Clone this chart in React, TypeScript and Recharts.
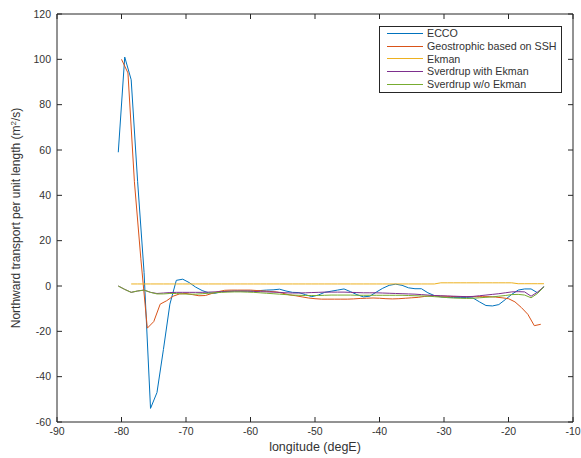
import { LineChart, Line, XAxis, YAxis, Legend, Label } from "recharts";

// longitude grids (degE)
const halfLon = [
  -80.5, -79.5, -78.5, -77.5, -76.5, -75.5, -74.5, -73.5, -72.5, -71.5,
  -70.5, -69.5, -68.5, -67.5, -66.5, -65.5, -64.5, -63.5, -62.5, -61.5,
  -60.5, -59.5, -58.5, -57.5, -56.5, -55.5, -54.5, -53.5, -52.5, -51.5,
  -50.5, -49.5, -48.5, -47.5, -46.5, -45.5, -44.5, -43.5, -42.5, -41.5,
  -40.5, -39.5, -38.5, -37.5, -36.5, -35.5, -34.5, -33.5, -32.5, -31.5,
  -30.5, -29.5, -28.5, -27.5, -26.5, -25.5, -24.5, -23.5, -22.5, -21.5,
  -20.5, -19.5, -18.5, -17.5, -16.5, -15.5, -14.5,
];
const intLon = [
  -80, -79, -78, -77, -76, -75, -74, -73, -72, -71,
  -70, -69, -68, -67, -66, -65, -64, -63, -62, -61,
  -60, -59, -58, -57, -56, -55, -54, -53, -52, -51,
  -50, -49, -48, -47, -46, -45, -44, -43, -42, -41,
  -40, -39, -38, -37, -36, -35, -34, -33, -32, -31,
  -30, -29, -28, -27, -26, -25, -24, -23, -22, -21,
  -20, -19, -18, -17, -16, -15,
];

const ecco = [
  59, 101, 91, 46, 6, -54, -47, -28, -8, 2.5,
  3, 1.5, -0.5, -2, -3, -3.2, -2.5, -2.3, -2.2, -2.2,
  -2.2, -2.2, -2.0, -1.8, -1.7, -1.4, -2.2, -2.8, -2.9, -3.8,
  -4.7, -4.0, -2.8, -2.3, -1.8, -1.3, -2.5, -3.8, -4.8, -4.5,
  -2.7, -1, 0.3, 0.8, 0.3, -0.8, -1.2, -1.2, -3, -4.2,
  -4.8, -5.1, -5.1, -5.1, -5.1, -5.3, -7, -8.6, -8.8, -8.2,
  -6, -3.7, -1.8, -1.3, -1.3, -3, -0.3,
];
const geostrophic = [
  100, 94, 46, 12, -18.6, -15.7, -8, -6.5, -4.5, -3.5,
  -3.3, -3.8, -4.3, -4.2, -3.3, -2.5, -1.9, -1.8, -1.8, -1.8,
  -1.8, -2, -2.2, -2.4, -2.6, -3.2, -3.9, -4.3, -4.8, -5.3,
  -5.6, -5.8, -5.8, -5.8, -5.8, -5.8, -5.7, -5.5, -5.4, -5.3,
  -5.4, -5.6, -5.7, -5.6, -5.4, -5.2, -5.0, -4.6, -4.3, -4.4,
  -4.5, -4.6, -4.7, -4.7, -4.7, -4.7, -4.7, -4.7, -4.9, -5.2,
  -5.6, -7, -9.5, -12.5, -17.5, -16.9,
];
const ekman = [
  null, null, 0.9, 0.9, 0.9, 0.9, 0.9, 0.9, 0.9, 0.9,
  0.9, 0.9, 0.9, 0.9, 0.9, 0.9, 0.9, 0.9, 0.9, 0.9,
  0.9, 0.9, 0.9, 0.9, 0.9, 0.9, 0.9, 0.9, 0.9, 0.9,
  0.9, 0.9, 0.9, 0.9, 0.9, 0.9, 0.9, 0.9, 0.9, 0.9,
  0.9, 0.9, 0.9, 0.9, 0.9, 0.9, 0.9, 0.9, 0.9, 0.9,
  1.4, 1.4, 1.4, 1.4, 1.4, 1.4, 1.4, 1.4, 1.4, 1.4,
  1.4, 1.4, 1.0, 1.0, 1.0, 1.0, 1.0,
];
const sverdrupWith = [
  0, -1.5, -2.8, -2.2, -1.8, -2.8, -3.3, -3.1, -2.9, -2.8,
  -2.8, -2.8, -2.8, -2.8, -2.7, -2.6, -2.5, -2.4, -2.3, -2.3,
  -2.3, -2.4, -2.5, -2.6, -2.7, -2.8, -3.0, -3.1, -3.1, -3.0,
  -2.9, -2.8, -2.7, -2.7, -2.7, -2.7, -2.8, -2.9, -3.0, -3.0,
  -3.0, -3.1, -3.2, -3.3, -3.4, -3.5, -3.6, -3.8, -4.0, -4.2,
  -4.3, -4.4, -4.5, -4.6, -4.7, -4.6, -4.3, -4.0, -3.7, -3.4,
  -3.0, -2.6, -2.5, -2.6, -4.5, -2.7, -0.3,
];
const sverdrupWithout = [
  0, -1.5, -2.8, -2.2, -1.8, -2.8, -3.5, -3.5, -3.3, -3.3,
  -3.5, -3.6, -3.6, -3.4, -3.2, -3.0, -2.8, -2.7, -2.6, -2.6,
  -2.7, -2.8, -3.0, -3.2, -3.4, -3.6, -3.8, -4.0, -4.1, -4.2,
  -4.2, -4.2, -4.1, -4.0, -4.0, -4.0, -4.0, -4.1, -4.1, -4.1,
  -4.1, -4.1, -4.1, -4.1, -4.1, -4.2, -4.3, -4.4, -4.5, -4.7,
  -4.9, -5.1, -5.3, -5.4, -5.5, -5.4, -5.2, -5.0, -4.8, -4.5,
  -4.2, -3.8, -3.7, -4.0, -5.2, -3.3, -0.3,
];

const xTicks = [-90, -80, -70, -60, -50, -40, -30, -20, -10];
const yTicks = [-60, -40, -20, 0, 20, 40, 60, 80, 100, 120];

const seriesNames = [
  "ECCO",
  "Geostrophic based on SSH",
  "Ekman",
  "Sverdrup with Ekman",
  "Sverdrup w/o Ekman",
];
const seriesColors = ["#0072BD", "#D95319", "#EDB120", "#7E2F8E", "#77AC30"];

const rows = (lon: number[], vals: (number | null)[]) =>
  lon.map((x, i) => ({ lon: x, v: vals[i] }));

const series = [
  rows(halfLon, ecco),
  rows(intLon, geostrophic),
  rows(halfLon, ekman),
  rows(halfLon, sverdrupWith),
  rows(halfLon, sverdrupWithout),
];

const axisColor = "#262626";
const tickStyle = { fontSize: 10.5, fill: "#333" };
const blank = () => "";

// legend drawn in plot order (recharts sorts its payload by name)
function LegendBox() {
  return (
    <div
      style={{
        boxSizing: "border-box",
        width: 183,
        height: 67,
        border: `1px solid ${axisColor}`,
        background: "#fff",
        padding: "0 0 0 7px",
        fontSize: 10.7,
        color: "#333",
        lineHeight: "12.8px",
      }}
    >
      {seriesNames.map((name, i) => (
        <div key={name} style={{ display: "flex", alignItems: "center", whiteSpace: "nowrap" }}>
          <span
            style={{
              display: "inline-block",
              width: 36,
              height: 1,
              background: seriesColors[i],
              marginRight: 4,
            }}
          />
          <span>{name}</span>
        </div>
      ))}
    </div>
  );
}

export default function App() {
  return (
    <div
      style={{
        position: "absolute",
        left: 0,
        top: 0,
        width: 581,
        height: 458,
        background: "#fff",
        fontFamily: "'Liberation Sans', Arial, sans-serif",
      }}
    >
      <LineChart width={581} height={458} margin={{ top: 13, right: 7, bottom: 0, left: 0 }}>
        <XAxis
          xAxisId="b"
          type="number"
          dataKey="lon"
          domain={[-90, -10]}
          ticks={xTicks}
          allowDataOverflow
          height={36}
          stroke={axisColor}
          tickSize={-5}
          tickMargin={11}
          tick={tickStyle}
        >
          <Label
            content={() => (
              <text x={315} y={451} textAnchor="middle" fontSize={12.5} fill="#333">
                longitude (degE)
              </text>
            )}
          />
        </XAxis>
        <XAxis
          xAxisId="t"
          orientation="top"
          type="number"
          dataKey="lon"
          domain={[-90, -10]}
          ticks={xTicks}
          allowDataOverflow
          height={1}
          stroke={axisColor}
          tickSize={-5}
          tickFormatter={blank}
        />
        <YAxis
          yAxisId="l"
          type="number"
          domain={[-60, 120]}
          ticks={yTicks}
          allowDataOverflow
          width={57}
          stroke={axisColor}
          tickSize={-5}
          tickMargin={11}
          tick={tickStyle}
        >
          <Label
            content={() => (
              <text
                x={20}
                y={218}
                textAnchor="middle"
                fontSize={12}
                fill="#333"
                transform="rotate(-90, 20, 218)"
              >
                Northward transport per unit length (m
                <tspan dy={-4} fontSize={8}>2</tspan>
                <tspan dy={4}>/s)</tspan>
              </text>
            )}
          />
        </YAxis>
        <YAxis
          yAxisId="r"
          orientation="right"
          type="number"
          domain={[-60, 120]}
          ticks={yTicks}
          allowDataOverflow
          width={1}
          stroke={axisColor}
          tickSize={-5}
          tickFormatter={blank}
        />
        {series.map((d, i) => (
          <Line
            key={seriesNames[i]}
            xAxisId="b"
            yAxisId="l"
            data={d}
            dataKey="v"
            name={seriesNames[i]}
            stroke={seriesColors[i]}
            strokeWidth={1}
            dot={false}
            activeDot={false}
            type="linear"
            isAnimationActive={false}
          />
        ))}
        <Legend
          layout="vertical"
          align="center"
          verticalAlign="middle"
          content={<LegendBox />}
          wrapperStyle={{ left: 379, top: 26, width: "auto" }}
        />
      </LineChart>
    </div>
  );
}
